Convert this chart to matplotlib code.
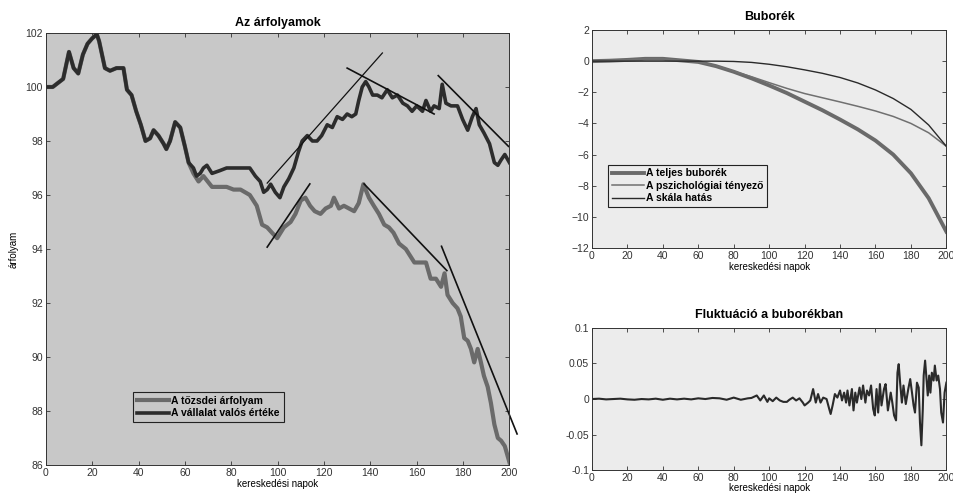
import matplotlib
matplotlib.use("Agg")
import matplotlib.pyplot as plt

plt.rcParams['font.family'] = ['Liberation Sans', 'DejaVu Sans']

# --- Az árfolyamok: valós érték (sötét) és tőzsdei árfolyam (szürke) ---
value_days = [0, 3, 7.5, 10, 12, 14, 16, 18, 20, 22, 23, 25.5, 27.7, 30.5, 33.5, 35, 37, 39, 41, 43,
              45, 46.5, 48.6, 50.8, 52, 53.6, 55.8, 58, 60, 61.6, 63.7, 65, 66.6, 68, 69.5, 71.7, 75,
              78, 81, 84, 88, 90.4, 92.5, 94, 95.5, 97, 99, 101, 102.7, 104.8, 107, 109, 110.6, 112.8,
              115, 117, 119, 121.4, 123.6, 125.7, 128, 130, 132, 133.7, 135, 136.5, 138, 139.4, 141,
              143, 145, 147.3, 149.5, 151.7, 154, 156, 158, 160, 162.5, 164, 166, 167.5, 169.7, 171,
              172.6, 174.8, 177.6, 179.8, 182, 184, 185.6, 187, 189, 191.4, 193.5, 195, 196.4, 198, 200]
value_vals = [100.0, 100.0, 100.3, 101.3, 100.7, 100.5, 101.2, 101.6, 101.8, 101.95, 101.7, 100.7,
              100.6, 100.7, 100.7, 99.9, 99.7, 99.1, 98.6, 98.0, 98.1, 98.4, 98.2, 97.9, 97.7, 98.0,
              98.7, 98.5, 97.8, 97.2, 97.0, 96.7, 96.8, 97.0, 97.1, 96.8, 96.9, 97.0, 97.0, 97.0, 97.0,
              96.7, 96.5, 96.1, 96.2, 96.4, 96.1, 95.9, 96.3, 96.6, 97.0, 97.6, 98.0, 98.2, 98.0, 98.0,
              98.2, 98.6, 98.5, 98.9, 98.8, 99.0, 98.9, 99.0, 99.5, 100.0, 100.2, 100.0, 99.7, 99.7,
              99.6, 99.9, 99.6, 99.7, 99.4, 99.3, 99.1, 99.3, 99.1, 99.5, 99.1, 99.3, 99.2, 100.1, 99.4,
              99.3, 99.3, 98.8, 98.4, 98.9, 99.2, 98.6, 98.3, 97.9, 97.2, 97.1, 97.3, 97.5, 97.2]

price_days = [0, 3, 7.5, 10, 12, 14, 16, 18, 20, 22, 23, 25.5, 27.7, 30.5, 33.5, 35, 37, 39, 41, 43,
              45, 46.5, 48.6, 50.8, 52, 53.6, 55.8, 58, 60, 61.6, 63.7, 65.9, 68, 71.7, 75, 78, 81, 84,
              88, 91, 93.3, 95.5, 97.6, 99.8, 102.7, 105.6, 107.7, 110, 112, 114, 116, 118.5, 120.7,
              123, 124.3, 126.5, 128.6, 130.8, 133, 135, 137, 139.4, 141.5, 143.7, 146, 148, 150,
              152.4, 155.3, 159, 161.8, 164, 166, 168.3, 170.5, 172, 173.3, 175.5, 177.6, 179, 180.5,
              182, 183.4, 184.8, 186.3, 187.7, 189, 190.6, 192, 193.5, 195, 196.4, 198, 200]
price_vals = [100.0, 100.0, 100.3, 101.3, 100.7, 100.5, 101.2, 101.6, 101.8, 101.95, 101.7, 100.7,
              100.6, 100.7, 100.7, 99.9, 99.7, 99.1, 98.6, 98.0, 98.1, 98.4, 98.2, 97.9, 97.7, 98.0,
              98.7, 98.5, 97.8, 97.2, 96.8, 96.5, 96.7, 96.3, 96.3, 96.3, 96.2, 96.2, 96.0, 95.6,
              94.9, 94.8, 94.6, 94.4, 94.8, 95.0, 95.3, 95.8, 95.9, 95.6, 95.4, 95.3, 95.5, 95.6, 95.9,
              95.5, 95.6, 95.5, 95.4, 95.7, 96.4, 95.9, 95.6, 95.3, 94.9, 94.8, 94.6, 94.2, 94.0, 93.5,
              93.5, 93.5, 92.9, 92.9, 92.6, 93.1, 92.3, 92.0, 91.8, 91.5, 90.7, 90.6, 90.3, 89.8, 90.3,
              89.8, 89.3, 88.9, 88.3, 87.5, 87.0, 86.9, 86.7, 86.1]

# érintő egyenesek: kezdő és végpont
tan_x0 = [95.5, 95.5, 130, 169.3, 137.3, 170.7]
tan_y0 = [96.44, 94.07, 100.70, 100.42, 96.41, 94.1]
tan_x1 = [145.2, 113.9, 167.5, 199.6, 173.0, 203.3]
tan_y1 = [101.26, 96.41, 99.0, 97.8, 93.2, 87.15]

# --- Buborék ---
bub_days = [0, 10, 20, 30, 40, 50, 60, 70, 80, 90, 100, 110, 120, 130, 140, 150, 160, 170, 180, 190, 200]
bub_total = [0, 0.03, 0.08, 0.15, 0.15, 0.05, -0.05, -0.32, -0.68, -1.1, -1.56, -2.05, -2.6, -3.15,
             -3.75, -4.38, -5.1, -6.0, -7.2, -8.8, -10.95]
bub_psych = [0, 0.03, 0.08, 0.15, 0.15, 0.05, -0.05, -0.3, -0.65, -1.0, -1.38, -1.75, -2.08, -2.35,
             -2.62, -2.9, -3.2, -3.55, -4.0, -4.6, -5.47]
bub_scale = [0, 0, 0, 0, 0, 0, 0, 0, -0.02, -0.08, -0.2, -0.36, -0.56, -0.78, -1.05, -1.4, -1.85,
             -2.4, -3.1, -4.1, -5.47]

# --- Fluktuáció ---
fluct_days = [0, 4, 8, 12, 16, 20, 24, 28, 32, 36, 40, 44, 48, 52, 56, 60, 64, 68, 72, 76, 80, 84,
              88, 90, 93, 95, 97, 99, 100, 102, 104, 106, 108, 110, 111.4, 113.3, 115.2, 117.1, 119,
              120, 122, 123.2, 124.8, 126.3, 127.6, 129, 130.5, 132.4, 133.9, 134.7, 135.8, 137.1,
              138.5, 140, 141.1, 142.3, 143.4, 144.2, 145.3, 146.7, 147.6, 148.6, 149.5, 151, 152,
              153, 154.3, 155.2, 156.4, 157.5, 158.7, 159.6, 160.6, 161.5, 162.5, 163.4, 164.8,
              165.7, 167, 168.6, 169.5, 170.5, 171.6, 172.4, 173.1, 173.9, 174.9, 175.8, 177.1,
              178.5, 179.6, 180.6, 181.5, 182.3, 183.4, 184.4, 185.1, 185.9, 186.7, 187.2, 188,
              188.8, 189.5, 190.3, 191, 191.8, 192.8, 193.5, 194.5, 195.4, 196.4, 197.1, 198.1,
              199, 200]
fluct_vals = [0, 0.0005, -0.0005, 0, 0.0005, -0.0005, -0.001, 0, -0.0005, 0.0005, -0.001, 0.0005,
              -0.0005, 0.0005, -0.0005, 0.001, 0, 0.0015, 0.001, -0.001, 0.002, -0.001, 0.001,
              0.0015, 0.005, -0.002, 0.005, -0.004, 0.001, -0.003, 0.002, -0.002, -0.004, -0.004,
              -0.001, 0.002, -0.002, 0.001, -0.005, -0.009, -0.005, -0.002, 0.014, -0.005, 0.007,
              -0.005, 0.002, 0, -0.014, -0.021, -0.009, 0.007, 0.002, 0.012, -0.002, 0.009, -0.005,
              0.012, -0.009, 0.014, -0.016, 0.009, -0.005, 0.016, 0, 0.019, -0.005, 0.012, 0.005,
              0.019, -0.014, -0.023, 0.014, -0.019, 0.021, -0.009, 0.014, 0.021, -0.016, 0.009,
              -0.005, -0.023, -0.030, 0.037, 0.049, 0.023, -0.005, 0.019, -0.007, 0.014, 0.028,
              0.009, -0.009, -0.019, 0.023, 0.016, -0.033, -0.065, -0.014, 0.033, 0.054, 0.028,
              0.005, 0.033, 0.009, 0.037, 0.026, 0.047, 0.026, 0.033, 0.014, -0.019, -0.033, 0.009,
              0.023]

xticks = list(range(0, 201, 20))

fig = plt.figure(figsize=(9.54, 4.96), dpi=100)
ax1 = fig.add_axes([0.048, 0.0625, 0.486, 0.871])
ax2 = fig.add_axes([0.6205, 0.5, 0.3715, 0.4395])
ax3 = fig.add_axes([0.6205, 0.052, 0.3715, 0.287])


def matlab_style(ax, bg):
    ax.set_facecolor(bg)
    ax.tick_params(direction='in', top=True, right=True, labelsize=7.5, length=3,
                   width=0.6, colors='#333333', pad=2)
    for s in ax.spines.values():
        s.set_color('#333333')
        s.set_linewidth(0.7)


legend_kw = dict(frameon=True, fancybox=False, edgecolor='#222222', framealpha=1,
                 borderpad=0.35, labelspacing=0.25, handletextpad=0.25, handlelength=3.1,
                 borderaxespad=0, prop={'weight': 'bold', 'size': 7.5})

matlab_style(ax1, '#c8c8c8')
ax1.plot(price_days, price_vals, color='#6a6a6a', lw=3, label='A tőzsdei árfolyam')
ax1.plot(value_days, value_vals, color='#2c2c2c', lw=2.6, label='A vállalat valós értéke')
for i in range(len(tan_x0)):
    lw = 0.9 if i == 0 else 1.2
    ax1.plot([tan_x0[i], tan_x1[i]], [tan_y0[i], tan_y1[i]], color='#111111', lw=lw, clip_on=(i != 5))
ax1.set_xlim(0, 200)
ax1.set_ylim(86, 102)
ax1.set_xticks(xticks)
ax1.set_yticks(range(86, 103, 2))
ax1.set_title('Az árfolyamok', fontsize=9, fontweight='bold', pad=5)
ax1.set_xlabel('kereskedési napok', fontsize=7, labelpad=1)
ax1.set_ylabel('árfolyam', fontsize=7, labelpad=5)
leg = ax1.legend(loc='lower left', bbox_to_anchor=(0.188, 0.10), facecolor='#c8c8c8', **legend_kw)
leg.get_frame().set_linewidth(0.8)

matlab_style(ax2, '#ececec')
ax2.plot(bub_days, bub_total, color='#6a6a6a', lw=2.8, label='A teljes buborék')
ax2.plot(bub_days, bub_psych, color='#707070', lw=1.1, label='A pszichológiai tényező')
ax2.plot(bub_days, bub_scale, color='#2a2a2a', lw=1.0, label='A skála hatás')
ax2.set_xlim(0, 200)
ax2.set_ylim(-12, 2)
ax2.set_xticks(xticks)
ax2.set_yticks(range(-12, 3, 2))
ax2.set_title('Buborék', fontsize=9, fontweight='bold', pad=7)
ax2.set_xlabel('kereskedési napok', fontsize=7, labelpad=1)
leg2 = ax2.legend(loc='lower left', bbox_to_anchor=(0.045, 0.188), facecolor='#ececec', **legend_kw)
leg2.get_frame().set_linewidth(0.8)

matlab_style(ax3, '#ececec')
ax3.plot(fluct_days, fluct_vals, color='#2a2a2a', lw=1.5)
ax3.set_xlim(0, 200)
ax3.set_ylim(-0.1, 0.1)
ax3.set_xticks(xticks)
ax3.set_yticks([-0.1, -0.05, 0, 0.05, 0.1])
ax3.set_yticklabels(['-0.1', '-0.05', '0', '0.05', '0.1'])
ax3.set_title('Fluktuáció a buborékban', fontsize=9, fontweight='bold', pad=7)
ax3.set_xlabel('kereskedési napok', fontsize=7, labelpad=0)

fig.savefig('out.png', dpi=100)
